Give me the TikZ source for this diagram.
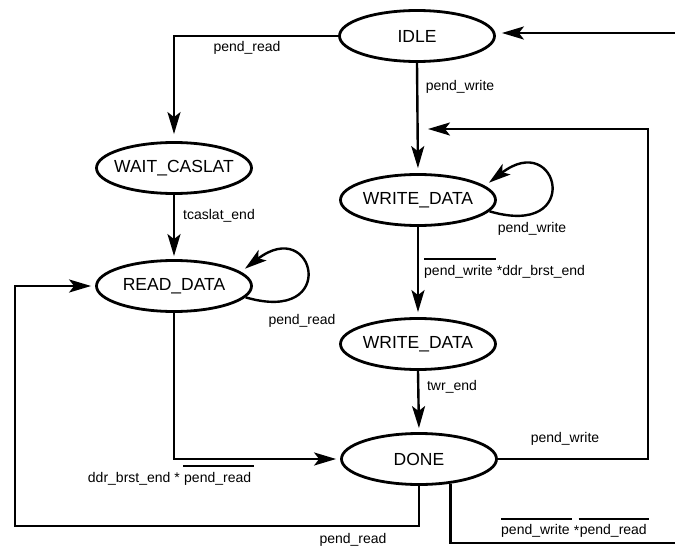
\documentclass[tikz,border=0pt]{standalone}
\usepackage{fontspec}
\setmainfont{Liberation Sans}
\usetikzlibrary{shapes.geometric,arrows.meta}
\begin{document}
\begin{tikzpicture}[x=1pt,y=-1pt,
  state/.style={ellipse,draw,line width=2.8pt,minimum width=155pt,minimum height=51pt,inner sep=0pt,
    font=\fontsize{17.5}{20}\selectfont},
  conn/.style={line width=2.4pt},
  arr/.style={conn,-{Stealth[length=22pt,width=13pt,inset=5pt]}},
  lbl/.style={font=\fontsize{14}{16}\selectfont,inner sep=0pt},
  bar/.style={line width=2.8pt}]
\useasboundingbox (0,0) rectangle (675,546);

% states
\node[state] (idle) at (417,36) {\makebox[0pt]{IDLE}};
\node[state] (wait) at (174,168) {\makebox[0pt]{WAIT\_CASLAT}};
\node[state] (read) at (174,286) {\makebox[0pt]{READ\_DATA}};
\node[state] (wd1) at (418,200) {\makebox[0pt]{WRITE\_DATA}};
\node[state] (wd2) at (418,344) {\makebox[0pt]{WRITE\_DATA}};
\node[state] (done) at (419,459) {\makebox[0pt]{DONE}};

% free ends
\coordinate (rin) at (675,33);
\coordinate (rtop) at (648,129);
\coordinate (rtip) at (428,129);
\coordinate (lb) at (15,526);
\coordinate (rb) at (675,543);

% connectors
\draw[arr,shorten >=6pt] (rin) -- (rin -| idle.east);
\draw[arr,shorten >=7pt] (idle.west) -| (wait.north);
\draw[arr,shorten >=5pt] (idle.south) -- (wd1.north);
\draw[arr,shorten >=3pt] (wait.south) -- (read.north);
\draw[arr,shorten >=5pt] (read.-9) .. controls (340,325) and (315,215) .. (read.12);
\draw[arr,shorten >=5pt] (wd1.-9) .. controls (584,239) and (559,129) .. (wd1.12);
\draw[arr,shorten >=5pt] (wd1.south) -- (wd2.north);
\draw[arr,shorten >=4pt] (wd2.south) -- (done.north);
\draw[arr,shorten >=4pt] (read.south) |- (done.west);
\draw[arr] (done.east) -| (rtop) -- (rtip);
\draw[arr,shorten >=4pt] (done.south) |- (lb) |- (read.west);
\draw[conn] (done.-38) |- (rb);

% labels
\node[lbl] (l1) at (247,48) {pend\_read};
\node[lbl] (l2) at (460,87) {pend\_write};
\node[lbl] (l3) at (219,216) {tcaslat\_end};
\node[lbl] (l4) at (302,321) {pend\_read};
\node[lbl] (l5) at (532,229) {pend\_write};
\node[lbl,anchor=west] (l6a) at (424,272) {pend\_write};
\node[lbl,anchor=west] (l6b) at (l6a.east) {\ *ddr\_brst\_end};
\draw[bar] ([yshift=13pt]l6a.west) -- ([yshift=13pt,xshift=3pt]l6a.east);
\node[lbl] (l11) at (452,387) {twr\_end};
\node[lbl,anchor=west] (l7b) at (184,479) {pend\_read};
\node[lbl,anchor=east] (l7a) at ([xshift=-4pt]l7b.west) {ddr\_brst\_end *};
\draw[bar] ([yshift=13pt,xshift=-1pt]l7b.west) -- ([yshift=13pt,xshift=3pt]l7b.east);
\node[lbl] (l8) at (565,439) {pend\_write};
\node[lbl] (l9) at (353,540) {pend\_read};
\node[lbl,anchor=west] (l10a) at (501,531) {pend\_write};
\node[lbl,anchor=west] (l10s) at (l10a.east) {\ *};
\node[lbl,anchor=west] (l10b) at (l10s.east) {pend\_read};
\draw[bar] ([yshift=12pt]l10a.west) -- ([yshift=12pt,xshift=2pt]l10a.east);
\draw[bar] ([yshift=12pt,xshift=-1pt]l10b.west) -- ([yshift=12pt,xshift=2pt]l10b.east);
\end{tikzpicture}
\end{document}
